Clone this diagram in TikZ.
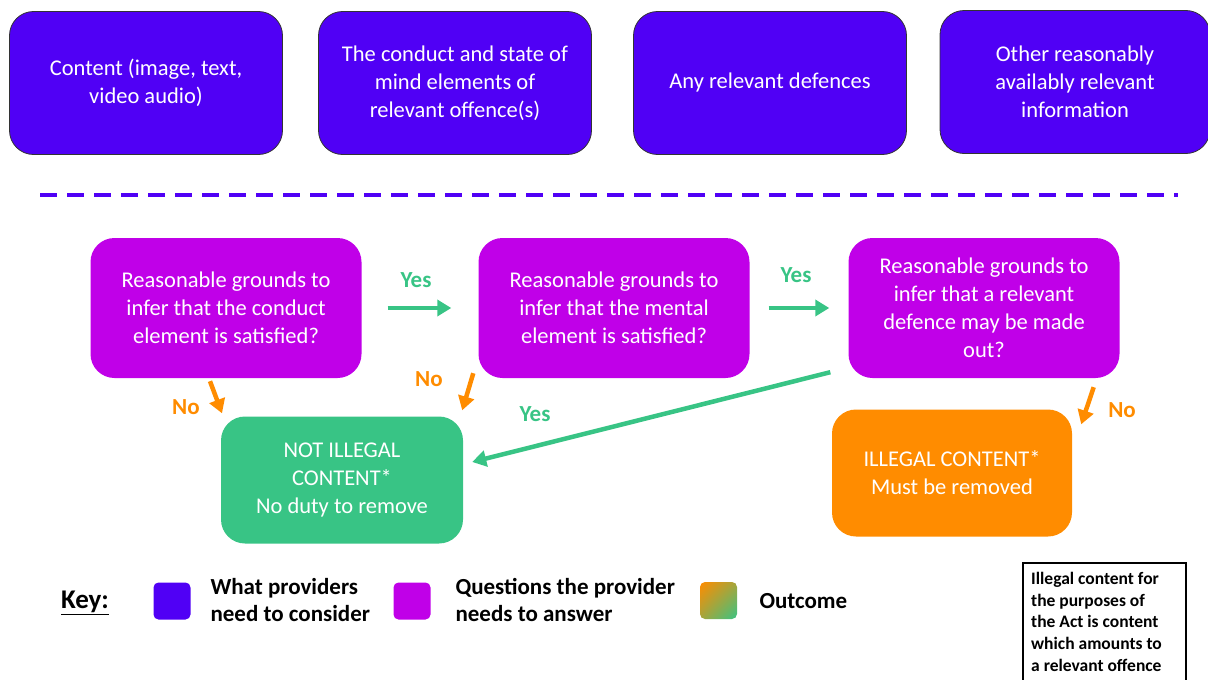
\documentclass[tikz,border=0pt]{standalone}
\usepackage{fontspec}
\setmainfont{Carlito}
\usetikzlibrary{arrows.meta,shadings}

\definecolor{considerblue}{RGB}{80,0,245}
\definecolor{questionpink}{RGB}{192,0,232}
\definecolor{outgreen}{RGB}{56,196,133}
\definecolor{outorange}{RGB}{255,140,0}

\tikzset{
  considerbox/.style={draw=black!80, line width=0.8pt, fill=considerblue, rounded corners=24pt,
    text=white, align=center, inner sep=0pt, minimum width=273pt, minimum height=143pt,
    font=\fontsize{22.5}{28}\selectfont},
  questionbox/.style={fill=questionpink, rounded corners=24pt, text=white, align=center,
    inner sep=0pt, minimum width=271pt, minimum height=140pt, font=\fontsize{22.5}{28}\selectfont},
  outcomebox/.style={rounded corners=24pt, text=white, align=center, inner sep=0pt,
    minimum width=242pt, minimum height=127pt, font=\fontsize{22.5}{28}\selectfont},
  yesarrow/.style={draw=outgreen, line width=4.5pt, -{Triangle[width=16pt,length=14pt]}},
  noarrow/.style={draw=outorange, line width=4.5pt, -{Triangle[width=16pt,length=14pt]}},
  yeslabel/.style={text=outgreen, font=\bfseries\fontsize{23}{26}\selectfont},
  nolabel/.style={text=outorange, font=\bfseries\fontsize{23}{26}\selectfont},
  keytext/.style={anchor=west, align=left, font=\bfseries\fontsize{23}{27}\selectfont},
  swatch/.style={rounded corners=5pt, minimum width=37pt, minimum height=37pt, inner sep=0pt}
}

\begin{document}
\begin{tikzpicture}[x=1pt, y=-1pt]
  \useasboundingbox (0,0) rectangle (1208,680);

  % what providers need to consider
  \node[considerbox] (content)   at (146,83)  {Content (image, text,\\video audio)};
  \node[considerbox] (conduct)   at (455,83)  {The conduct and state of\\mind elements of\\relevant offence(s)};
  \node[considerbox] (defences)  at (770,83)  {Any relevant defences};
  \node[considerbox, minimum width=270pt] (otherinfo) at (1075,82) {Other reasonably\\availably relevant\\information};

  % separator
  \coordinate (sepl) at (40,195);
  \coordinate (sepr) at (1178,195);
  \draw[considerblue, line width=3.5pt, dash pattern=on 17pt off 10pt] (sepl) -- (sepr);

  % questions
  \node[questionbox] (qconduct) at (226,308) {Reasonable grounds to\\infer that the conduct\\element is satisfied?};
  \node[questionbox] (qmental)  at (614,308) {Reasonable grounds to\\infer that the mental\\element is satisfied?};
  \node[questionbox] (qdefence) at (984,308) {Reasonable grounds to\\infer that a relevant\\defence may be made\\out?};

  % outcomes
  \node[outcomebox, fill=outgreen]  (notillegal) at (342,480) {NOT ILLEGAL\\CONTENT*\\No duty to remove};
  \node[outcomebox, fill=outorange, minimum width=240pt] (illegal) at (952,473) {ILLEGAL CONTENT*\\Must be removed};

  % yes branches
  \draw[yesarrow] ([xshift=26pt]qconduct.east) -- ([xshift=-27pt]qmental.west);
  \node[yeslabel] (yes1) at (416,280) {Yes};
  \draw[yesarrow] ([xshift=19pt]qmental.east) -- ([xshift=-19pt]qdefence.west);
  \node[yeslabel] (yes2) at (796,275) {Yes};
  \draw[yesarrow] ([xshift=-18pt,yshift=6pt]qdefence.south west) -- ([xshift=9pt,yshift=18pt]notillegal.east);
  \node[yeslabel] (yes3) at (535,414) {Yes};

  % no branches
  \draw[noarrow] ([xshift=-16pt,yshift=-3pt]qconduct.south) -- ([xshift=-120pt,yshift=3pt]notillegal.north);
  \node[nolabel] (no1) at (186,407) {No};
  \draw[noarrow] ([xshift=-5pt,yshift=5pt]qmental.south west) -- ([xshift=-1pt,yshift=6pt]notillegal.north east);
  \node[nolabel] (no2) at (429,379) {No};
  \draw[noarrow] ([xshift=-26pt,yshift=-9pt]qdefence.south east) -- ([xshift=9pt,yshift=-15pt]illegal.north east);
  \node[nolabel] (no3) at (1122,410) {No};

  % key
  \node[font=\bfseries\fontsize{27}{30}\selectfont] (key) at (85,603) {\underline{Key:}};
  \node[swatch, fill=considerblue] (swconsider) at (172,601) {};
  \node[keytext] (txconsider) at (207,600) {What providers\\need to consider};
  \node[swatch, fill=questionpink] (swquestion) at (412,601) {};
  \node[keytext] (txquestion) at (452,600) {Questions the provider\\needs to answer};
  \shade[rounded corners=5pt, upper left=outorange, lower right=outgreen,
    upper right=outorange!55!outgreen, lower left=outorange!55!outgreen] (700,582) rectangle (737,619);
  \node[swatch] (swoutcome) at (718,601) {};
  \node[keytext] (txoutcome) at (756,601) {Outcome};

  % note
  \node[draw=black, line width=1.6pt, anchor=north west, minimum width=163pt, minimum height=130pt,
    inner sep=0pt] (notebox) at (1022,562) {};
  \node[anchor=north west, align=left, inner sep=0pt, font=\bfseries\fontsize{17.5}{21.7}\selectfont]
    (notetext) at (1031,572) {Illegal content for\\the purposes of\\the Act is content\\which amounts to\\a relevant offence};
\end{tikzpicture}
\end{document}
